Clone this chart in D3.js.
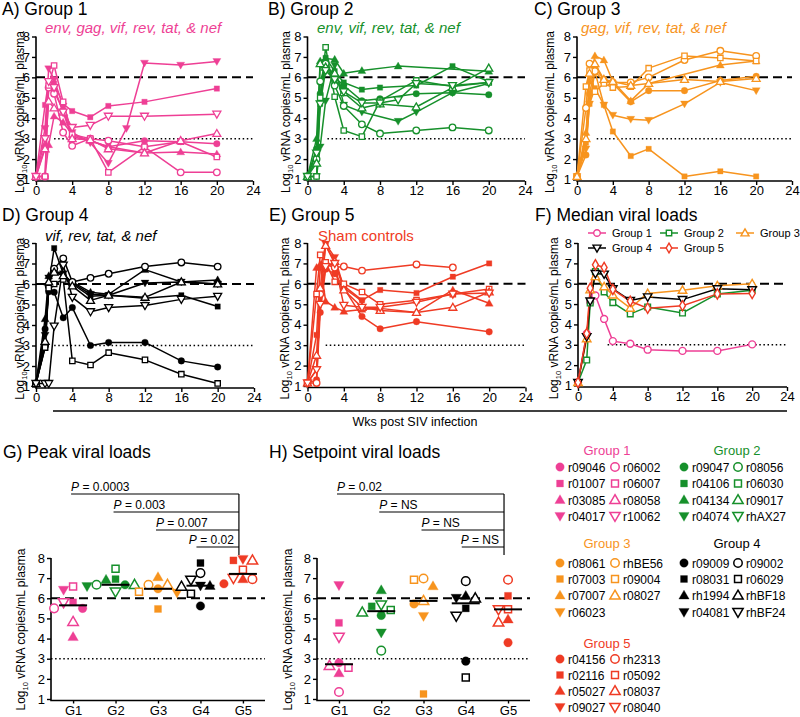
<!DOCTYPE html>
<html><head><meta charset="utf-8">
<script src="https://cdn.jsdelivr.net/npm/d3@7"></script>
<style>
body{margin:0;background:#fff}
svg{display:block}
text{font-family:"Liberation Sans",Arial,Helvetica,sans-serif;fill:#000}
</style>
</head><body>
<svg id="chart" width="800" height="717"></svg>
<script>
// ---------------- DATA ----------------
const weeks = [0, 1, 1.4, 2, 3, 4, 6, 8, 10, 12, 16, 20];
const medianWeeks = [0, 1, 1.4, 2, 3, 4, 6, 8, 12, 16, 20];
const xTicks = [0, 4, 8, 12, 16, 20, 24];
const yTicks = [1, 2, 3, 4, 5, 6, 7, 8];
const groupNames = ["Group 1", "Group 2", "Group 3", "Group 4", "Group 5"];
const groupLabels = ["G1", "G2", "G3", "G4", "G5"];
const groupColors = ["#EE3F95", "#16902B", "#F7941E", "#000000", "#EF3B24"];
const subtitles = ["env, gag, vif, rev, tat, & nef", "env, vif, rev, tat, & nef", "gag, vif, rev, tat, & nef", "vif, rev, tat, & nef", "Sham controls"];
// animal order per group: filled circle, filled square, filled up-tri, filled down-tri, open circle, open square, open up-tri, open down-tri
const g1Ids = ["r09046", "r01007", "r03085", "r04017", "r06002", "r06007", "r08058", "r10062"];
const g2Ids = ["r09047", "r04106", "r04134", "r04074", "r08056", "r06030", "r09017", "rhAX27"];
const g3Ids = ["r08061", "r07003", "r07007", "r06023", "rhBE56", "r09004", "r08027"];
const g4Ids = ["r09009", "r08031", "rh1994", "r04081", "r09002", "r06029", "rhBF18", "rhBF24"];
const g5Ids = ["r04156", "r02116", "r05027", "r09027", "rh2313", "r05092", "r08037", "r08040"];

// log10 vRNA per animal at `weeks`
const g1Values = [
  [1.15, 2.6, 5.5, 5.3, 4.4, 3.1, 2.9, 2.6, null, 2.9, 2.85, 2.75],
  [1.15, 4.65, 5.8, 5.7, 4.7, 4.35, 4.05, 4.6, null, 4.8, null, 5.45],
  [1.15, 1.15, 2.7, 4.1, 3.8, 3.2, 2.9, 2.6, null, 2.3, 2.35, 2.25],
  [1.15, 3.5, 6.42, 5.9, 4.6, 3.3, 2.8, 1.8, 3.5, 6.7, 6.6, 6.78],
  [1.15, 1.15, 5.5, 5.2, 3.3, 2.65, 3.0, 2.9, null, 2.6, 1.35, 1.35],
  [1.15, 1.15, 5.6, 6.58, 4.8, 3.2, 3.0, 1.35, null, 2.6, 2.85, 2.1],
  [1.15, 2.5, 4.83, 4.5, 4.3, 3.0, 2.95, 2.5, null, 2.3, 2.9, 3.25],
  [1.15, 3.0, 5.8, 5.5, 4.3, 3.55, 3.65, 4.1, null, 4.1, null, 4.2]
];
const g2Values = [
  [1.15, 2.5, 5.2, 6.67, 6.0, 5.6, 4.85, 4.95, null, 5.2, 5.25, 5.15],
  [1.15, 1.15, 4.7, 6.95, 6.3, 5.75, 5.4, 5.5, null, 5.6, 6.55, 5.8],
  [1.15, 3.0, 6.8, 6.92, 6.88, 6.2, 6.33, null, 6.55, null, null, 6.3],
  [1.15, 1.15, 2.6, 4.85, 6.6, 4.65, 4.3, null, 3.85, 4.3, 5.25, 5.7],
  [1.15, 2.0, 5.8, 6.67, 5.6, 4.6, 3.7, 3.25, null, 3.4, 3.55, 3.4],
  [1.15, 1.15, 5.0, 7.47, 5.05, 3.4, 3.1, 4.85, null, 5.85, 5.55, 5.75],
  [1.15, 1.8, 6.67, 6.5, 6.2, 5.25, 4.5, 4.7, null, 4.55, 5.5, 6.45],
  [1.15, 2.3, 4.7, 6.33, 5.9, 5.3, 4.75, 4.75, 4.9, 5.7, 5.6, 5.75]
];
const g3Values = [
  [1.15, 2.2, 5.2, 6.47, 5.9, 5.7, 4.8, 5.35, null, 5.35, 5.85, 6.05],
  [1.15, 2.8, 4.7, 5.47, 4.65, 3.35, 2.15, 2.5, null, 1.15, 1.4, 1.15],
  [1.15, 3.3, 5.8, 7.05, 6.85, 5.8, 4.85, 5.7, null, null, 6.6, 6.8],
  [1.15, 2.5, 4.7, 6.28, 4.65, 4.15, 3.95, 3.9, null, 4.7, 5.75, 5.35],
  [1.15, 4.5, 6.67, 6.3, 5.8, 5.75, 5.75, 6.0, null, 6.85, 7.3, 7.05],
  [1.15, 5.55, 6.33, 5.3, 5.7, 5.5, 5.55, 6.45, null, 7.05, 6.95, 6.8],
  [1.15, 3.0, 6.2, 6.67, 5.9, 5.8, 5.6, 5.7, null, 5.9, 5.8, 5.95]
];
const g4Values = [
  [1.15, 3.8, 5.62, 5.6, 4.35, 4.85, 3.0, 3.15, null, 3.15, 2.25, 1.95],
  [1.15, 2.9, 6.0, 7.75, 6.5, 6.0, 5.4, 5.45, null, 5.3, 5.45, 4.9],
  [1.15, 4.3, 6.4, 6.62, 6.4, 6.1, 5.6, 5.5, null, 6.7, 6.1, 6.2],
  [1.15, 3.5, 6.3, 6.63, 6.5, 6.05, 5.5, 5.45, null, 6.05, 6.1, 6.0],
  [1.15, 3.0, 5.9, 6.75, 7.25, 6.1, 6.3, 6.5, null, 6.85, 7.05, 6.85],
  [1.15, 2.9, 5.8, 6.0, 6.22, 2.25, 2.05, 2.65, null, 2.3, 1.6, 1.15],
  [1.15, 3.2, 6.1, 6.58, 6.4, 5.9, 5.2, 5.45, null, 5.35, 6.1, 6.0],
  [1.15, 1.15, 1.15, 3.95, 6.92, 5.35, 4.65, 4.85, null, 4.95, 5.25, 5.4]
];
const g5Values = [
  [1.15, 1.3, 4.6, 6.72, 6.5, 5.8, 4.4, 3.8, null, 4.15, null, 3.65],
  [1.15, 3.5, 6.8, 7.88, 7.0, 5.9, 5.2, 5.7, null, 5.55, 6.35, 7.0],
  [1.15, 6.8, 6.95, 5.15, 4.85, 4.65, 4.75, 4.8, null, 4.6, 5.7, 5.05],
  [1.15, 1.8, 5.0, 7.95, 7.3, 5.8, 5.15, null, null, null, null, null],
  [1.15, 1.15, 5.5, 6.95, 6.8, 6.85, 6.65, null, null, 6.95, 6.8, null],
  [1.15, 5.5, 7.42, 7.05, 6.1, 6.0, 5.6, 5.0, null, 5.2, 5.5, 5.75],
  [1.15, 2.5, 5.8, 7.88, 7.1, 5.7, 4.85, 4.7, null, 4.6, 4.85, 5.6],
  [1.15, 1.8, 5.0, 6.85, 7.0, 4.95, 4.85, 4.85, null, 5.1, 5.5, 5.55]
];

// medians per group at `medianWeeks`
const medianG1 = [1.15, 3.55, 5.1, 5.42, 4.27, 3.18, 3.05, 2.76, 2.7, 2.7, 3.02];
const medianG2 = [1.15, 2.25, 5.05, 6.6, 5.6, 5.07, 4.52, 4.86, 4.56, 5.5, 5.68];
const medianG3 = [1.15, 3.3, 5.7, 6.35, 5.85, 5.45, 4.8, 5.52, 5.68, 5.9, 6.0];
const medianG4 = [1.15, 3.4, 5.15, 6.5, 6.47, 5.75, 5.18, 5.35, 5.22, 5.75, 5.7];
const medianG5 = [1.15, 3.55, 5.78, 6.93, 6.8, 5.72, 5.14, 4.8, 4.92, 5.5, 5.52];

// peak & setpoint log10 viral loads, same animal order as ids
const peakG1 = [5.5, 5.8, 4.08, 6.42, 5.5, 6.58, 4.83, 5.8];
const peakG2 = [6.67, 6.95, 6.92, 6.6, 6.67, 7.47, 6.67, 6.33];
const peakG3 = [6.47, 5.47, 7.05, 6.28, 6.67, 6.33, 6.67];
const peakG4 = [5.62, 7.75, 6.62, 6.63, 7.25, 6.22, 6.58, 6.92];
const peakG5 = [6.72, 7.88, 6.95, 7.95, 6.95, 7.42, 7.88, 7.0];
const setpointG1 = [2.8, 4.78, 2.28, 6.65, 1.35, 2.55, 2.65, 4.08];
const setpointG2 = [5.15, 5.6, 6.4, 4.3, 3.4, 5.42, 5.3, 5.68];
const setpointG3 = [5.72, 1.25, 6.6, 5.12, 6.98, 6.92, 5.87];
const setpointG4 = [2.88, 5.5, 6.12, 6.02, 6.85, 2.07, 6.0, 5.13];
const setpointG5 = [3.8, 6.12, 4.95, null, 6.92, 5.45, 4.8, 5.45];

const peakPLabels = ["0.0003", "0.003", "0.007", "0.02"];
const setpointPLabels = ["0.02", "NS", "NS", "NS"];

// --------------- DRAWING ---------------
const groupIds = [g1Ids, g2Ids, g3Ids, g4Ids, g5Ids];
const groupValues = [g1Values, g2Values, g3Values, g4Values, g5Values];
const medians = [medianG1, medianG2, medianG3, medianG4, medianG5];
const peaks = [peakG1, peakG2, peakG3, peakG4, peakG5];
const setpoints = [setpointG1, setpointG2, setpointG3, setpointG4, setpointG5];
const kinds = ["circle", "square", "up", "down"];
const medianKinds = ["circle", "square", "up", "down", "diamond"];

const svg = d3.select("#chart");

function symPath(kind, size) {
  const t = kind === "circle" ? d3.symbolCircle : kind === "square" ? d3.symbolSquare :
            kind === "diamond" ? d3.symbolDiamond : d3.symbolTriangle;
  const s = (kind === "up" || kind === "down") ? size * 0.82 : kind === "square" ? size * 0.85 : kind === "diamond" ? size * 0.8 : size;
  return d3.symbol().type(t).size(s)();
}
function marker(sel, x, y, kind, open, color, size, sw) {
  const dy = kind === "up" ? 0.6 : kind === "down" ? -0.6 : 0;
  sel.append("path").attr("d", symPath(kind, size))
    .attr("transform", `translate(${x},${y + dy})` + (kind === "down" ? " rotate(180)" : ""))
    .attr("fill", open ? "#fff" : color).attr("stroke", color)
    .attr("stroke-width", open ? sw : 0.3);
}
function yLabel(x, yc) {
  const t = svg.append("text").attr("transform", `translate(${x},${yc}) rotate(-90)`)
    .attr("text-anchor", "middle").attr("font-size", 12);
  t.append("tspan").text("Log");
  t.append("tspan").attr("font-size", 7.5).attr("dy", 3).text("10");
  t.append("tspan").attr("dy", -3).text(" vRNA copies/mL plasma");
}
function title(x, y, txt) {
  svg.append("text").attr("x", x).attr("y", y).attr("font-size", 17.5).text(txt);
}
function drawAxes(g, x, y, left, right, bottom, top, xAxisGen, fontSize) {
  const ya = g.append("g").attr("transform", `translate(${left},0)`)
    .call(d3.axisLeft(y).tickValues(yTicks).tickFormat(d3.format("d")).tickSize(4).tickPadding(2));
  const xa = g.append("g").attr("transform", `translate(0,${bottom + 1.5})`).call(xAxisGen);
  [ya, xa].forEach(a => {
    a.select(".domain").remove();
    a.selectAll("line").attr("stroke", "#000").attr("stroke-width", 1.4);
    a.selectAll("text").attr("font-size", fontSize).attr("fill", "#000")
      .attr("font-family", '"Liberation Sans",Arial,sans-serif');
  });
  g.append("path").attr("d", `M${left},${top}V${bottom + 1.5}H${right}`)
    .attr("fill", "none").attr("stroke", "#000").attr("stroke-width", 1.6);
}

// line panels
const panels = [
  {g: 0, left: 36, right: 253, top: 36.5, bottom: 179.5, tx: 2, ty: 15, ttl: "A) Group 1", sx: 45, sy: 33, lab: 24, dotFrom: 2},
  {g: 1, left: 307.5, right: 525, top: 36.5, bottom: 179.5, tx: 268, ty: 15, ttl: "B) Group 2", sx: 317, sy: 33, lab: 290, dotFrom: 2.2},
  {g: 2, left: 577, right: 792, top: 36.5, bottom: 179.5, tx: 534, ty: 15, ttl: "C) Group 3", sx: 581, sy: 33, lab: 554, dotFrom: 2.2},
  {g: 3, left: 36, right: 254, top: 243, bottom: 386.5, tx: 2, ty: 221, ttl: "D) Group 4", sx: 45, sy: 241, lab: 24, dotFrom: 2},
  {g: 4, left: 307.5, right: 525.5, top: 243, bottom: 386, tx: 269, ty: 221, ttl: "E) Group 5", sx: 318, sy: 241, lab: 289, dotFrom: 2}
];

panels.forEach(p => {
  const color = groupColors[p.g];
  const x = d3.scaleLinear().domain([0, 24]).range([p.left, p.right]);
  const y = d3.scaleLinear().domain([1, 8]).range([p.bottom, p.top]);
  const g = svg.append("g");
  title(p.tx, p.ty, p.ttl);
  svg.append("text").attr("x", p.sx).attr("y", p.sy).attr("font-size", 15)
    .attr("font-style", p.g === 4 ? "normal" : "italic").style("fill", color).text(subtitles[p.g]);
  yLabel(p.lab, (p.top + p.bottom) / 2 + 4);
  g.append("line").attr("x1", x(0)).attr("x2", x(24)).attr("y1", y(6)).attr("y2", y(6))
    .attr("stroke", "#000").attr("stroke-width", 2).attr("stroke-dasharray", "9,5");
  g.append("line").attr("x1", x(p.dotFrom)).attr("x2", x(24)).attr("y1", y(3)).attr("y2", y(3))
    .attr("stroke", "#000").attr("stroke-width", 1.5).attr("stroke-dasharray", "1.5,2.6");
  drawAxes(g, x, y, p.left, p.right, p.bottom, p.top,
    d3.axisBottom(x).tickValues(xTicks).tickSize(4).tickPadding(1), 13);
  const vals = groupValues[p.g];
  const line = d3.line().x(d => x(d.w)).y(d => y(d.v));
  const series = vals.map(arr => weeks.map((w, j) => ({w, v: arr[j]})).filter(d => d.v != null));
  series.forEach(s => g.append("path").attr("d", line(s)).attr("fill", "none")
    .attr("stroke", color).attr("stroke-width", 1.5).attr("stroke-linejoin", "round"));
  series.forEach((s, i) => s.forEach(d =>
    marker(g, x(d.w), y(d.v), kinds[i % 4], i >= 4, color, 34, 1.3)));
});

// Median panel F
(function () {
  const left = 578, right = 787, top = 243, bottom = 385.5;
  const x = d3.scaleLinear().domain([0, 24]).range([left, right]);
  const y = d3.scaleLinear().domain([1, 8]).range([bottom, top]);
  const g = svg.append("g");
  title(535, 221, "F) Median viral loads");
  yLabel(558, (top + bottom) / 2 + 4);
  g.append("line").attr("x1", x(0)).attr("x2", x(24)).attr("y1", y(6)).attr("y2", y(6))
    .attr("stroke", "#000").attr("stroke-width", 2).attr("stroke-dasharray", "9,5");
  g.append("line").attr("x1", x(3.4)).attr("x2", x(24)).attr("y1", y(3)).attr("y2", y(3))
    .attr("stroke", "#000").attr("stroke-width", 1.5).attr("stroke-dasharray", "1.5,2.6");
  drawAxes(g, x, y, left, right, bottom, top,
    d3.axisBottom(x).tickValues(xTicks).tickSize(4).tickPadding(1), 13);
  const line = d3.line().x(d => x(d.w)).y(d => y(d.v));
  medians.forEach((m, gi) => {
    const pts = medianWeeks.map((w, j) => ({w, v: m[j]}));
    g.append("path").attr("d", line(pts)).attr("fill", "none")
      .attr("stroke", groupColors[gi]).attr("stroke-width", 1.5);
  });
  medians.forEach((m, gi) => medianWeeks.forEach((w, j) =>
    marker(g, x(w), y(m[j]), medianKinds[gi], true, groupColors[gi], 38, 1.4)));
  // legend
  const lx = [597, 669, 745], ly = [233, 248];
  groupNames.forEach((n, gi) => {
    const cx = lx[gi % 3], cy = ly[Math.floor(gi / 3)];
    g.append("line").attr("x1", cx - 9).attr("x2", cx + 9).attr("y1", cy).attr("y2", cy)
      .attr("stroke", groupColors[gi]).attr("stroke-width", 1.5);
    marker(g, cx, cy, medianKinds[gi], true, groupColors[gi], 34, 1.4);
    g.append("text").attr("x", cx + 15).attr("y", cy + 4).attr("font-size", 11).text(n);
  });
})();

// separator & common x label
svg.append("line").attr("x1", 53).attr("x2", 787).attr("y1", 411).attr("y2", 411)
  .attr("stroke", "#000").attr("stroke-width", 1.5);
svg.append("text").attr("x", 415).attr("y", 426).attr("text-anchor", "middle")
  .attr("font-size", 12.5).text("Wks post SIV infection");

// scatter panels
function swarm(vals, cx, y, step, diam) {
  const pts = vals.map((v, i) => ({v, i})).filter(p => p.v != null);
  pts.forEach(p => p.y = y(p.v));
  const order = pts.slice().sort((a, b) => b.v - a.v);
  const placed = [];
  order.forEach(p => {
    for (let k = 0; k < 30; k++) {
      const off = k === 0 ? 0 : (k % 2 ? -1 : 1) * Math.ceil(k / 2) * step;
      if (!placed.some(q => Math.abs(q.x - (cx + off)) < step * 0.9 && Math.abs(q.y - p.y) < diam)) {
        p.x = cx + off; break;
      }
    }
    placed.push(p);
  });
  return pts;
}

function scatterPanel(opt) {
  const {left, right, top, bottom, data, pLabels, ttl, tx, lab} = opt;
  const g = svg.append("g");
  title(tx, 458, ttl);
  yLabel(lab, (top + bottom) / 2 + 1);
  const x = d3.scalePoint().domain(groupLabels).range([left, right]).padding(0.52);
  const y = d3.scaleLinear().domain([1, 8]).range([bottom, top]);
  g.append("line").attr("x1", left).attr("x2", right).attr("y1", y(6)).attr("y2", y(6))
    .attr("stroke", "#000").attr("stroke-width", 2).attr("stroke-dasharray", "9,5");
  g.append("line").attr("x1", left).attr("x2", right).attr("y1", y(3)).attr("y2", y(3))
    .attr("stroke", "#000").attr("stroke-width", 1.5).attr("stroke-dasharray", "1.5,2.6");
  drawAxes(g, x, y, left, right, bottom, top,
    d3.axisBottom(x).tickSize(3).tickPadding(2), 13);
  data.forEach((vals, gi) => {
    const cx = x(groupLabels[gi]);
    const med = d3.median(vals.filter(v => v != null));
    swarm(vals, cx, y, 9.5, 9).forEach(p =>
      marker(g, p.x, p.y, kinds[p.i % 4], p.i >= 4, groupColors[gi], 58, 1.5));
    g.append("line").attr("x1", cx - 14).attr("x2", cx + 14).attr("y1", y(med)).attr("y2", y(med))
      .attr("stroke", "#000").attr("stroke-width", 2);
  });
  // comparison brackets to G5
  const xv = x("G5") - 4;
  const ys = [494, 512, 530, 547];
  g.append("line").attr("x1", xv).attr("x2", xv).attr("y1", ys[0]).attr("y2", 555)
    .attr("stroke", "#000").attr("stroke-width", 1.2);
  pLabels.forEach((pl, k) => {
    const xs = k === 3 ? x(groupLabels[k]) - 4 : x(groupLabels[k]) - 2;
    g.append("line").attr("x1", xs).attr("x2", xv).attr("y1", ys[k]).attr("y2", ys[k])
      .attr("stroke", "#000").attr("stroke-width", 1.2);
    const t = g.append("text").attr("y", ys[k] - 3).attr("font-size", 12);
    if (k === 3) t.attr("x", xv - 5).attr("text-anchor", "end");
    else t.attr("x", xs);
    t.append("tspan").attr("font-style", "italic").text("P");
    t.append("tspan").text(" = " + pl);
  });
}
scatterPanel({left: 51, right: 265, top: 558, bottom: 699, data: peaks, pLabels: peakPLabels,
  ttl: "G) Peak viral loads", tx: 3, lab: 25});
scatterPanel({left: 317, right: 530, top: 558, bottom: 699, data: setpoints, pLabels: setpointPLabels,
  ttl: "H) Setpoint viral loads", tx: 269, lab: 292});

// animal legend
const legendCols = [
  {gi: 0, cx: 607, ty: 455, rows: [467, 483.5, 500, 516], fx: 560, ox: 615},
  {gi: 1, cx: 737, ty: 455, rows: [467, 483.5, 500, 516], fx: 684, ox: 738},
  {gi: 2, cx: 607, ty: 548, rows: [563, 579, 595.5, 612], fx: 560, ox: 615},
  {gi: 3, cx: 737, ty: 548, rows: [563, 579, 595.5, 612], fx: 684, ox: 738},
  {gi: 4, cx: 607, ty: 648, rows: [659, 675, 691, 707], fx: 560, ox: 615}
];
legendCols.forEach(c => {
  const color = groupColors[c.gi];
  svg.append("text").attr("x", c.cx).attr("y", c.ty).attr("text-anchor", "middle")
    .attr("font-size", 13).style("fill", color).text(groupNames[c.gi]);
  groupIds[c.gi].forEach((id, i) => {
    const row = c.rows[i % 4];
    const mx = i < 4 ? c.fx : c.ox;
    marker(svg, mx, row, kinds[i % 4], i >= 4, color, 56, 1.5);
    svg.append("text").attr("x", mx + 8).attr("y", row + 4.5).attr("font-size", 12).text(id);
  });
});
</script>
</body></html>
